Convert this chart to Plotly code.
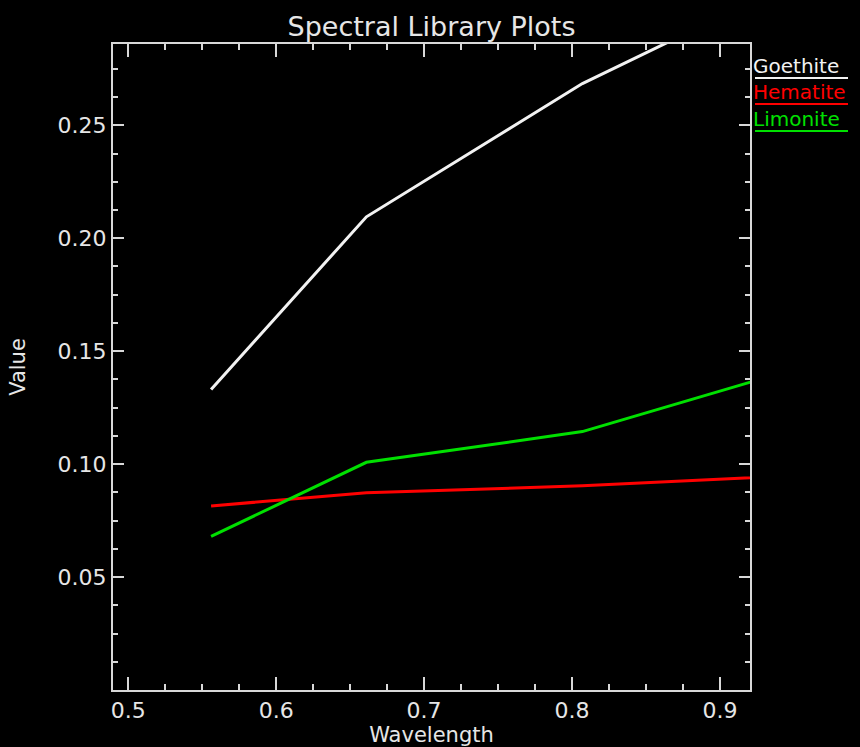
import plotly.graph_objects as go

# Data
wavelength = [0.556, 0.661, 0.807, 1.656]
goethite = [0.133, 0.2095, 0.2685, 0.537]
hematite = [0.0815, 0.0873, 0.0904, 0.117]
limonite = [0.068, 0.1008, 0.1144, 0.278]

series_names = ["Goethite", "Hematite", "Limonite"]
series_values = [goethite, hematite, limonite]
series_colors = ["#f2f2f2", "#ff0000", "#00e000"]

x_range = [0.4897, 0.9203]
y_range = [0.0, 0.286]
x_ticks = [0.5, 0.6, 0.7, 0.8, 0.9]
x_ticklabels = ["0.5", "0.6", "0.7", "0.8", "0.9"]
y_ticks = [0.05, 0.10, 0.15, 0.20, 0.25]
y_ticklabels = ["0.05", "0.10", "0.15", "0.20", "0.25"]

W, H = 860, 747
L, R, T, B = 113, 110, 44, 57
plot_h = H - T - B

fg = "#e6e6e6"
font_family = "DejaVu Sans"

fig = go.Figure()
for name, vals, col in zip(series_names, series_values, series_colors):
    fig.add_trace(go.Scatter(x=wavelength, y=vals, mode="lines", name=name,
                             line=dict(color=col, width=3), showlegend=False))

# Custom IDL-style legend: coloured text with an underline
legend_y_pix = [66, 92, 119]
for name, col, ypix in zip(series_names, series_colors, legend_y_pix):
    yp = (H - B - ypix) / plot_h
    fig.add_annotation(xref="paper", yref="paper", x=1, y=yp, xanchor="left",
                       yanchor="middle", xshift=1, text=name, showarrow=False,
                       font=dict(color=col, size=20, family=font_family))
    yl = (H - B - (ypix + 12)) / plot_h
    fig.add_shape(type="line", xref="paper", yref="paper",
                  x0=1 + 5 / (W - L - R), x1=1 + 98 / (W - L - R), y0=yl, y1=yl,
                  line=dict(color=col, width=2))

axis_common = dict(showgrid=False, zeroline=False, showline=True, linecolor="#d8d8d8",
                   linewidth=2, mirror="allticks", ticks="inside", tickcolor="#d8d8d8",
                   tickwidth=2, tickfont=dict(color=fg, size=22, family=font_family))

fig.update_xaxes(range=x_range, tickvals=x_ticks, ticktext=x_ticklabels, ticklen=13,
                 minor=dict(ticks="inside", dtick=0.025, tick0=0.5, ticklen=6,
                            tickcolor="#d8d8d8", tickwidth=2),
                 title=dict(text="Wavelength", font=dict(color=fg, size=21, family=font_family),
                            standoff=0),
                 **axis_common)
fig.update_yaxes(range=y_range, tickvals=y_ticks, ticktext=y_ticklabels, ticklen=11,
                 minor=dict(ticks="inside", dtick=0.0125, tick0=0.0, ticklen=5,
                            tickcolor="#d8d8d8", tickwidth=2),
                 title=dict(text="Value", font=dict(color=fg, size=21, family=font_family),
                            standoff=26),
                 **axis_common)

fig.update_layout(
    width=W, height=H,
    margin=dict(l=L, r=R, t=T, b=B, autoexpand=False),
    paper_bgcolor="black", plot_bgcolor="black",
    title=dict(text="Spectral Library Plots", x=(L + (W - R)) / 2 / W, xanchor="center",
               y=1 - 27 / H, yanchor="middle",
               font=dict(color=fg, size=27, family=font_family)),
    showlegend=False,
)

fig.write_html("out.html")
